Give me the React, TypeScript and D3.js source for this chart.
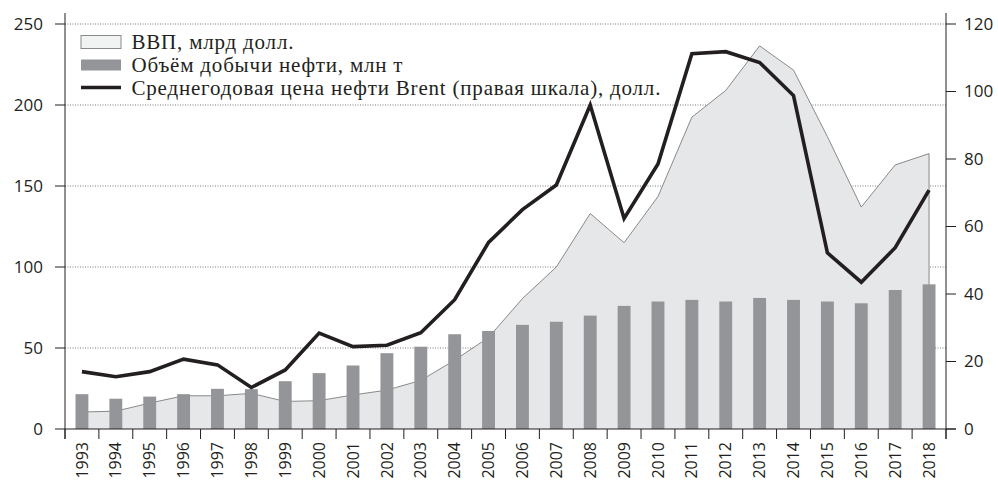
import React from "react";
import * as d3 from "d3";

const years = [
  "1993", "1994", "1995", "1996", "1997", "1998", "1999", "2000", "2001", "2002", "2003", "2004", "2005",
  "2006", "2007", "2008", "2009", "2010", "2011", "2012", "2013", "2014", "2015", "2016", "2017", "2018",
];
const gdp = [10.5, 11, 16, 20.5, 20.5, 22, 17, 17.5, 21, 24, 30, 42.5, 56.5, 80.5, 100, 133, 115, 143.5, 192.5, 209, 236.5, 221.5, 180.5, 137, 163, 170];
const oil = [21.5, 18.7, 20, 21.5, 24.8, 24.6, 29.5, 34.5, 39.2, 46.8, 50.8, 58.5, 60.5, 64.3, 66.2, 70, 76, 78.7, 79.7, 78.7, 80.9, 79.7, 78.7, 77.6, 85.8, 89.3];
const brent = [17, 15.5, 17, 20.7, 19, 12.3, 17.5, 28.4, 24.4, 24.8, 28.5, 38.3, 55.3, 65, 72.3, 96, 62.4, 78.5, 111.2, 111.8, 108.6, 98.8, 52.2, 43.5, 53.7, 70.8];
const leftTicks = [0, 50, 100, 150, 200, 250];
const rightTicks = [0, 20, 40, 60, 80, 100, 120];
const legendLabels = [
  "ВВП, млрд долл.",
  "Объём добычи нефти, млн т",
  "Среднегодовая цена нефти Brent (правая шкала), долл.",
];

const W = 998;
const H = 484;
const x0 = 65;
const x1 = 946;
const yTop = 24;
const yBot = 429;

export default function App() {
  const x = d3.scaleBand<string>().domain(years).range([x0, x1]).padding(0);
  const yL = d3.scaleLinear().domain([0, 250]).range([yBot, yTop]);
  const yR = d3.scaleLinear().domain([0, 120]).range([yBot, yTop]);
  const bw = x.bandwidth();
  const cx = (i: number) => (x(years[i]) as number) + bw / 2;

  const area = d3
    .area<number>()
    .x((_, i) => cx(i))
    .y0(yL(0))
    .y1((d) => yL(d));
  const topLine = d3
    .line<number>()
    .x((_, i) => cx(i))
    .y((d) => yL(d));
  const priceLine = d3
    .line<number>()
    .x((_, i) => cx(i))
    .y((d) => yR(d));

  const lastX = cx(gdp.length - 1);
  const barW = bw * 0.38;
  const axisColor = "#231f20";
  const sans = "'Open Sans', 'Noto Sans', sans-serif";
  const serif = "'Liberation Serif', 'DejaVu Serif', serif";

  const boundaries = d3.range(years.length + 1).map((i) => x0 + i * bw);

  return (
    <svg width={W} height={H} style={{ position: "absolute", left: 0, top: 0, background: "#fff" }}>
      {/* gridlines */}
      {leftTicks.filter((t) => t > 0).map((t) => (
        <line key={"g" + t} x1={x0} x2={x1} y1={yL(t)} y2={yL(t)} stroke="#555" strokeWidth={0.8} strokeDasharray="1,1.5" />
      ))}
      {/* GDP area */}
      <path d={area(gdp) || ""} fill="#e6e7e8" />
      <path d={(topLine(gdp) || "") + `L${lastX},${yL(0)}`} fill="none" stroke="#7d7d7d" strokeWidth={0.9} />
      {/* oil bars */}
      {oil.map((v, i) => (
        <rect key={"b" + i} x={cx(i) - barW / 2} y={yL(v)} width={barW} height={yL(0) - yL(v)} fill="#939598" />
      ))}
      {/* price line */}
      <path d={priceLine(brent) || ""} fill="none" stroke={axisColor} strokeWidth={3.6} strokeLinejoin="miter" />

      {/* axes */}
      <line x1={x0} x2={x0} y1={13} y2={439} stroke={axisColor} strokeWidth={1} />
      <line x1={x1} x2={x1} y1={13} y2={439} stroke={axisColor} strokeWidth={1} />
      <line x1={x0} x2={x1 + 10} y1={yBot} y2={yBot} stroke={axisColor} strokeWidth={1} />
      {boundaries.map((b, i) => (
        <line key={"xt" + i} x1={b} x2={b} y1={yBot} y2={439} stroke={axisColor} strokeWidth={1} />
      ))}
      {leftTicks.map((t) => (
        <g key={"lt" + t}>
          <line x1={x0 - 10} x2={x0} y1={yL(t)} y2={yL(t)} stroke={axisColor} strokeWidth={1} />
          <text x={43} y={yL(t)} dy="0.35em" textAnchor="end" fontFamily={sans} fontSize={17} fill={axisColor}>
            {t}
          </text>
        </g>
      ))}
      {rightTicks.map((t) => (
        <g key={"rt" + t}>
          <line x1={x1} x2={x1 + 10} y1={yR(t)} y2={yR(t)} stroke={axisColor} strokeWidth={1} />
          <text x={964} y={yR(t)} dy="0.35em" textAnchor="start" fontFamily={sans} fontSize={17} fill={axisColor}>
            {t}
          </text>
        </g>
      ))}
      {years.map((yr, i) => (
        <text
          key={"yl" + yr}
          transform={`translate(${cx(i)},442) rotate(-90)`}
          dy="0.35em"
          textAnchor="end"
          fontFamily={sans}
          fontSize={16}
          fill={axisColor}
        >
          {yr}
        </text>
      ))}

      {/* legend */}
      <rect x={81} y={35.5} width={40} height={13} fill="#f1f2f2" stroke="#8a8a8a" strokeWidth={1} />
      <rect x={81} y={59.5} width={40} height={11} fill="#939598" />
      <line x1={81} x2={121} y1={87.5} y2={87.5} stroke={axisColor} strokeWidth={3.6} />
      {legendLabels.map((l, i) => (
        <text key={"lg" + i} x={131.5} y={48.5 + i * 23} fontFamily={serif} fontSize={21} letterSpacing={0.8} fill={axisColor}>
          {l}
        </text>
      ))}
    </svg>
  );
}
